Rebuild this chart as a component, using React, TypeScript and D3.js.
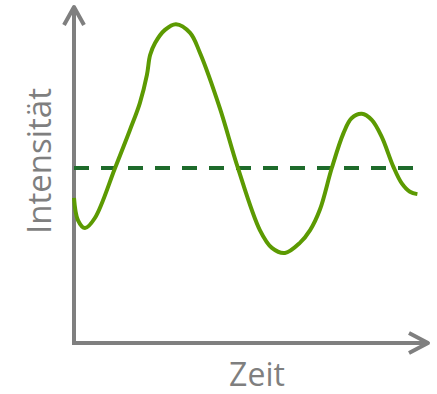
import React, { useRef, useEffect } from "react";
import * as d3 from "d3";

// time values (arbitrary units) and intensity
const times = [
  0, 0.11, 0.31, 0.59, 1.16, 1.58, 1.86, 2.06, 2.15, 2.29, 2.57, 2.88, 3.28,
  3.56, 4.12, 4.63, 5.25, 5.59, 5.96, 6.38, 6.67, 6.95, 7.28, 7.61, 7.84,
  8.13, 8.41, 8.69, 9.02, 9.26, 9.49, 9.7,
];
const intensity = [
  4.32, 3.66, 3.42, 3.72, 5.21, 6.34, 7.14, 7.98, 8.57, 8.93, 9.32, 9.49,
  9.23, 8.63, 6.99, 5.21, 3.36, 2.83, 2.68, 2.98, 3.36, 3.98, 5.2, 6.24,
  6.69, 6.82, 6.64, 6.14, 5.25, 4.75, 4.5, 4.43,
];
const meanLevel = 5.21;
const meanEnd = 9.83;
const xLabel = "Zeit";
const yLabel = "Intensität";

const App = () => {
  const svgRef = useRef<HTMLDivElement>(null);
  useEffect(() => {
    d3.select(svgRef.current).selectAll("*").remove();

    const width = 437;
    const height = 394;
    const x0 = 74;
    const y0 = 343;

    const svg = d3
      .select(svgRef.current)
      .append("svg")
      .attr("width", width)
      .attr("height", height)
      .style("position", "absolute")
      .style("left", 0)
      .style("top", 0);

    const x = d3.scaleLinear().domain([0, 10]).range([x0, 428]);
    const y = d3.scaleLinear().domain([0, 10]).range([y0, 7]);

    const grey = "#7f7f7f";

    // axes with open arrow heads
    svg
      .append("path")
      .attr(
        "d",
        `M${x0},${y0} L${x0},${y(10)} M${x0 - 10},${y(10) + 18} L${x0},${y(10)} L${x0 + 10},${y(10) + 18}`
      )
      .attr("fill", "none")
      .attr("stroke", grey)
      .attr("stroke-width", 4)
      .attr("stroke-linejoin", "round");
    svg
      .append("path")
      .attr(
        "d",
        `M${x0 - 2},${y0} L${x(10)},${y0} M${x(10) - 19},${y0 - 10} L${x(10)},${y0} L${x(10) - 19},${y0 + 10}`
      )
      .attr("fill", "none")
      .attr("stroke", grey)
      .attr("stroke-width", 4)
      .attr("stroke-linejoin", "round");

    // axis labels
    svg
      .append("text")
      .attr("x", 257)
      .attr("y", 386)
      .attr("text-anchor", "middle")
      .style("font-family", "'Open Sans', sans-serif")
      .style("font-size", "32px")
      .style("fill", grey)
      .text(xLabel);
    svg
      .append("text")
      .attr("transform", "translate(51,161) rotate(-90)")
      .attr("text-anchor", "middle")
      .style("font-family", "'Open Sans', sans-serif")
      .style("font-size", "33px")
      .style("fill", grey)
      .text(yLabel);

    // dashed mean line
    svg
      .append("line")
      .attr("x1", x(0))
      .attr("x2", x(meanEnd))
      .attr("y1", y(meanLevel))
      .attr("y2", y(meanLevel))
      .attr("stroke", "#1e6b2b")
      .attr("stroke-width", 4)
      .attr("stroke-dasharray", "15 12");

    // signal curve
    const data = times.map((t, i) => [t, intensity[i]] as [number, number]);
    const line = d3
      .line<[number, number]>()
      .x((d) => x(d[0]))
      .y((d) => y(d[1]))
      .curve(d3.curveCatmullRom.alpha(0.5));
    svg
      .append("path")
      .datum(data)
      .attr("d", line)
      .attr("fill", "none")
      .attr("stroke", "#5c9a02")
      .attr("stroke-width", 4);
  }, []);

  return <div ref={svgRef}></div>;
};

export default App;
